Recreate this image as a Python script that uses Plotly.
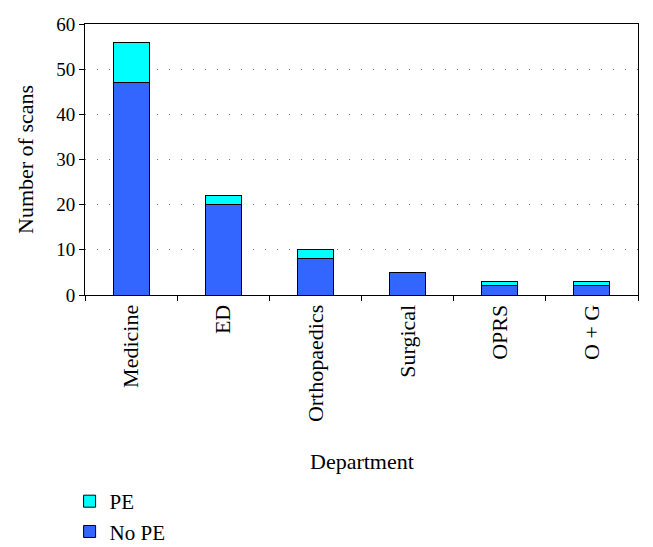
import plotly.graph_objects as go

departments = ["Medicine", "ED", "Orthopaedics", "Surgical", "OPRS", "O + G"]
no_pe = [47, 20, 8, 5, 2, 2]
pe = [9, 2, 2, 0, 1, 1]
y_ticks = [0, 10, 20, 30, 40, 50, 60]

FONT = "Liberation Serif, Times New Roman, Times, serif"

fig = go.Figure()
fig.add_trace(go.Bar(x=departments, y=no_pe, name="No PE",
                     marker=dict(color="#3366FF", line=dict(color="black", width=1))))
fig.add_trace(go.Bar(x=departments, y=pe, name="PE",
                     marker=dict(color="#00FFFF", line=dict(color="black", width=1))))

fig.update_layout(
    width=645, height=539,
    barmode="stack", bargap=0.61,
    plot_bgcolor="white", paper_bgcolor="white",
    font=dict(family=FONT, size=21, color="black"),
    margin=dict(l=77, r=15, t=16, b=252, autoexpand=False),
    showlegend=True,
    legend=dict(traceorder="reversed", xref="container", yref="container",
                x=0.0955, y=0.1224, xanchor="left", yanchor="top",
                font=dict(family=FONT, size=21), bgcolor="rgba(0,0,0,0)",
                tracegroupgap=0),
    annotations=[
        dict(text="Number of scans", xref="paper", yref="paper", x=-0.1085, y=0.5018,
             xanchor="center", yanchor="middle", textangle=-90, showarrow=False,
             font=dict(family=FONT, size=22)),
        dict(text="Department", xref="paper", yref="paper", x=0.5, y=-0.616,
             xanchor="center", yanchor="middle", showarrow=False,
             font=dict(family=FONT, size=22)),
    ],
)
fig.update_xaxes(
    showline=True, linecolor="black", linewidth=1, mirror=True,
    ticks="outside", tickson="boundaries", ticklen=5, tickcolor="black",
    tickangle=-90, showgrid=False, tickfont=dict(family=FONT, size=22),
)
fig.update_yaxes(
    range=[0, 60], tickvals=y_ticks,
    showline=True, linecolor="black", linewidth=1, mirror=True,
    ticks="outside", ticklen=5, tickcolor="black", tickfont=dict(family=FONT, size=19),
    showgrid=True, gridcolor="#777777", gridwidth=1, griddash="1px,11px",
    zeroline=False,
)

fig.write_html("out.html")
